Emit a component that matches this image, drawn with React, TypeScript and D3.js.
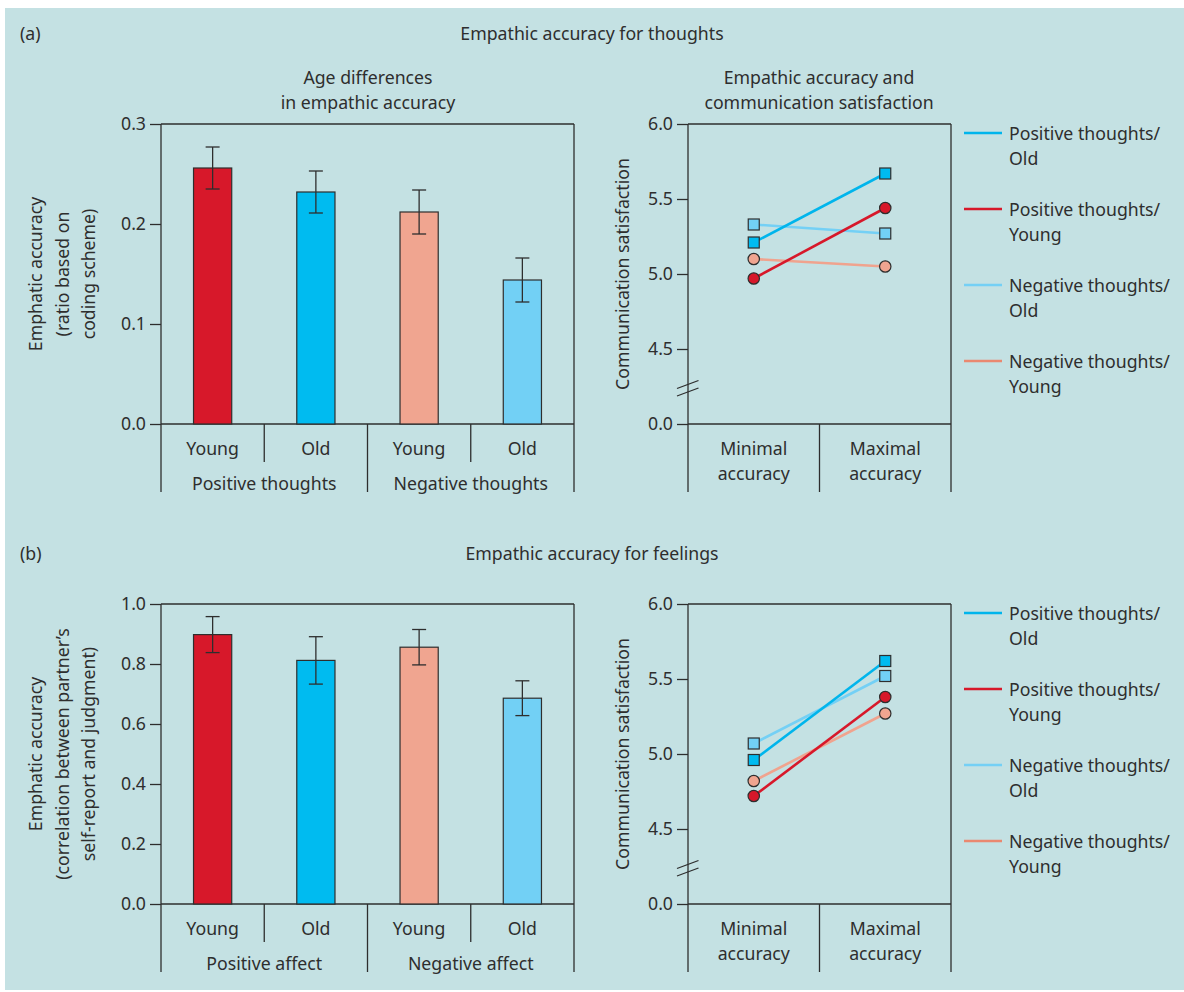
import React, { useEffect, useRef } from "react";
import * as d3 from "d3";

const W = 1184;
const H = 992;
const FONT = "'Noto Sans', sans-serif";
const FS = 17.7;
const INK = "#2e2e2e";
const BG = "#c4e1e3";

// bar charts: age differences
const barCategories = ["Young", "Old", "Young", "Old"];
const barColors = ["#d7182a", "#00bbf0", "#f0a590", "#72d0f5"];
const thoughtGroups = ["Positive thoughts", "Negative thoughts"];
const thoughtValues = [0.256, 0.232, 0.212, 0.144];
const thoughtErrors = [0.021, 0.021, 0.022, 0.022];
const thoughtTicks = [0, 0.1, 0.2, 0.3];
const feelingGroups = ["Positive affect", "Negative affect"];
const feelingValues = [0.898, 0.812, 0.856, 0.686];
const feelingErrors = [0.06, 0.079, 0.059, 0.058];
const feelingTicks = [0, 0.2, 0.4, 0.6, 0.8, 1.0];

// line charts: communication satisfaction
const accuracyLevels = [["Minimal", "accuracy"], ["Maximal", "accuracy"]];
const seriesLabels = [
  ["Positive thoughts/", "Old"],
  ["Positive thoughts/", "Young"],
  ["Negative thoughts/", "Old"],
  ["Negative thoughts/", "Young"],
];
const seriesColors = ["#00b5ec", "#d7182a", "#74d0f5", "#f0a38e"];
const legendColors = ["#00b5ec", "#d7182a", "#74d0f5", "#ea8870"];
const seriesMarkers = ["square", "circle", "square", "circle"];
const markerFills = ["#00bbf0", "#d7182a", "#72d0f5", "#f0a590"];
const satisfactionThoughts = [
  [5.21, 5.67],
  [4.97, 5.44],
  [5.33, 5.27],
  [5.1, 5.05],
];
const satisfactionFeelings = [
  [4.96, 5.62],
  [4.72, 5.38],
  [5.07, 5.52],
  [4.82, 5.27],
];
const satisfactionTicks = [4, 4.5, 5, 5.5, 6];

const App = () => {
  const svgRef = useRef(null);

  useEffect(() => {
    drawChart();
  }, []);

  const addText = (g, x, y, str, anchor = "middle") =>
    g
      .append("text")
      .attr("x", x)
      .attr("y", y)
      .attr("text-anchor", anchor)
      .attr("dominant-baseline", "central")
      .attr("font-family", FONT)
      .attr("font-size", FS)
      .attr("fill", INK)
      .text(str);

  const addLine = (g, x1, y1, x2, y2) =>
    g
      .append("line")
      .attr("x1", x1)
      .attr("y1", y1)
      .attr("x2", x2)
      .attr("y2", y2)
      .attr("stroke", INK)
      .attr("stroke-width", 1.3);

  const styleAxis = (axisG) => {
    axisG.select(".domain").remove();
    axisG.selectAll("line").attr("stroke", INK).attr("stroke-width", 1.3);
    axisG
      .selectAll("text")
      .attr("font-family", FONT)
      .attr("font-size", FS)
      .attr("fill", INK);
  };

  const drawBars = (g, values, errors, groups, ticks, yLabel) => {
    const top = 124;
    const bottom = 424;
    const x = d3.scaleBand().domain(d3.range(values.length)).range([161, 574]);
    const y = d3
      .scaleLinear()
      .domain([0, d3.max(ticks)])
      .range([bottom, top]);
    const bw = x.bandwidth() * 0.37;

    const axisG = g
      .append("g")
      .attr("transform", "translate(161,0)")
      .call(
        d3
          .axisLeft(y)
          .tickValues(ticks)
          .tickSize(11)
          .tickPadding(4)
          .tickFormat(d3.format(".1f"))
      );
    styleAxis(axisG);

    // frame
    addLine(g, 161, top, 574, top);
    addLine(g, 161, bottom, 574, bottom);
    addLine(g, 161, top, 161, 492);
    addLine(g, 574, top, 574, 492);
    d3.range(1, values.length).forEach((i) => {
      addLine(g, x(i), bottom, x(i), i % 2 === 0 ? 492 : 462);
    });

    // bars
    g.selectAll(".bar")
      .data(values)
      .enter()
      .append("rect")
      .attr("x", (d, i) => x(i) + x.bandwidth() / 2 - bw / 2)
      .attr("y", (d) => y(d))
      .attr("width", bw)
      .attr("height", (d) => y(0) - y(d))
      .attr("fill", (d, i) => barColors[i])
      .attr("stroke", INK)
      .attr("stroke-width", 1.2);

    // error bars
    values.forEach((v, i) => {
      const cx = x(i) + x.bandwidth() / 2;
      addLine(g, cx, y(v - errors[i]), cx, y(v + errors[i]));
      addLine(g, cx - 7, y(v + errors[i]), cx + 7, y(v + errors[i]));
      addLine(g, cx - 7, y(v - errors[i]), cx + 7, y(v - errors[i]));
    });

    barCategories.forEach((c, i) => addText(g, x(i) + x.bandwidth() / 2, 448, c));
    groups.forEach((grp, j) => addText(g, x(j * 2 + 1), 483, grp));

    yLabel.forEach((ln, k) => {
      addText(g, 0, 0, ln).attr(
        "transform",
        `translate(${35 + k * 26.5},${(top + bottom) / 2}) rotate(-90)`
      );
    });
  };

  const drawLines = (g, data) => {
    const top = 124;
    const bottom = 424;
    const x = d3.scaleBand().domain(d3.range(2)).range([688, 951]);
    const y = d3
      .scaleLinear()
      .domain(d3.extent(satisfactionTicks))
      .range([bottom, top]);

    const axisG = g
      .append("g")
      .attr("transform", "translate(688,0)")
      .call(
        d3
          .axisLeft(y)
          .tickValues(satisfactionTicks)
          .tickSize(11)
          .tickPadding(4)
          .tickFormat((d) => (d === 4 ? "0.0" : d3.format(".1f")(d)))
      );
    styleAxis(axisG);

    addLine(g, 688, top, 951, top);
    addLine(g, 688, bottom, 951, bottom);
    addLine(g, 688, top, 688, 492);
    addLine(g, 951, top, 951, 492);
    addLine(g, x(1), bottom, x(1), 492);

    // axis break marks
    addLine(g, 677, 388.5, 698.5, 380.5);
    addLine(g, 677, 396, 698.5, 388);

    const line = d3
      .line()
      .x((d, i) => x(i) + x.bandwidth() / 2)
      .y((d) => y(d));

    const order = [3, 2, 1, 0];
    order.forEach((s) => {
      g.append("path")
        .attr("d", line(data[s]))
        .attr("fill", "none")
        .attr("stroke", seriesColors[s])
        .attr("stroke-width", 2.6);
    });
    order.forEach((s) => {
      data[s].forEach((v, i) => {
        const cx = x(i) + x.bandwidth() / 2;
        if (seriesMarkers[s] === "square") {
          g.append("rect")
            .attr("x", cx - 5.5)
            .attr("y", y(v) - 5.5)
            .attr("width", 11)
            .attr("height", 11)
            .attr("fill", markerFills[s])
            .attr("stroke", INK)
            .attr("stroke-width", 1.2);
        } else {
          g.append("circle")
            .attr("cx", cx)
            .attr("cy", y(v))
            .attr("r", 5.7)
            .attr("fill", markerFills[s])
            .attr("stroke", INK)
            .attr("stroke-width", 1.2);
        }
      });
    });

    accuracyLevels.forEach((lvl, i) => {
      addText(g, x(i) + x.bandwidth() / 2, 448, lvl[0]);
      addText(g, x(i) + x.bandwidth() / 2, 473, lvl[1]);
    });

    addText(g, 0, 0, "Communication satisfaction").attr(
      "transform",
      `translate(622,${(top + bottom) / 2}) rotate(-90)`
    );

    // legend
    seriesLabels.forEach((lbl, s) => {
      const ly = 133 + s * 76;
      g.append("line")
        .attr("x1", 964)
        .attr("x2", 1002)
        .attr("y1", ly)
        .attr("y2", ly)
        .attr("stroke", legendColors[s])
        .attr("stroke-width", 2.6);
      addText(g, 1009, ly, lbl[0], "start");
      addText(g, 1009, ly + 25, lbl[1], "start");
    });
  };

  const drawChart = () => {
    const svg = d3.select(svgRef.current);
    svg.selectAll("*").remove();

    svg.append("rect")
      .attr("x", 5)
      .attr("y", 8)
      .attr("width", W - 5)
      .attr("height", H - 10)
      .attr("fill", BG);

    // panel (a)
    const a = svg.append("g");
    addText(a, 20, 33, "(a)", "start");
    addText(a, 592, 33, "Empathic accuracy for thoughts");
    addText(a, 368, 77, "Age differences");
    addText(a, 368, 102, "in empathic accuracy");
    addText(a, 819, 77, "Empathic accuracy and");
    addText(a, 819, 102, "communication satisfaction");
    drawBars(a, thoughtValues, thoughtErrors, thoughtGroups, thoughtTicks, [
      "Emphatic accuracy",
      "(ratio based on",
      "coding scheme)",
    ]);
    drawLines(a, satisfactionThoughts);

    // panel (b)
    const b = svg.append("g").attr("transform", "translate(0,480)");
    addText(b, 20, 73, "(b)", "start");
    addText(b, 592, 73, "Empathic accuracy for feelings");
    drawBars(b, feelingValues, feelingErrors, feelingGroups, feelingTicks, [
      "Emphatic accuracy",
      "(correlation between partner\u2019s",
      "self-report and judgment)",
    ]);
    drawLines(b, satisfactionFeelings);
  };

  return (
    <svg
      ref={svgRef}
      width={W}
      height={H}
      style={{ position: "absolute", left: 0, top: 0 }}
    ></svg>
  );
};

export default App;
